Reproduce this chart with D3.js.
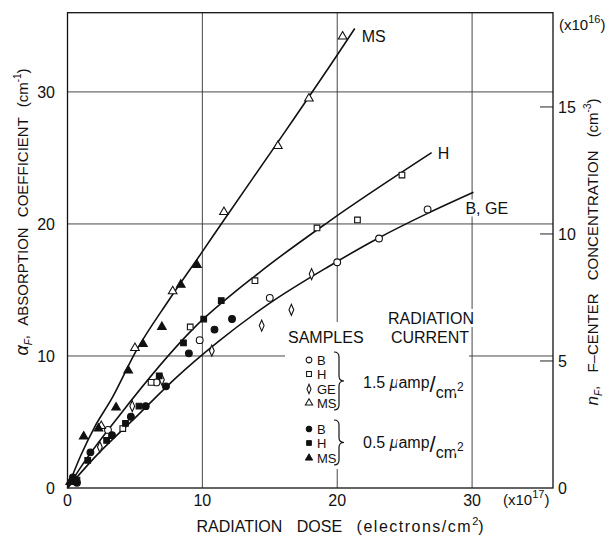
<!DOCTYPE html>
<html>
<head>
<meta charset="utf-8">
<script src="https://cdnjs.cloudflare.com/ajax/libs/d3/7.8.5/d3.min.js"></script>
<style>
  body { margin: 0; background: #fff; }
  svg text { font-family: "Liberation Sans", Arial, sans-serif; fill: #111; }
</style>
</head>
<body>
<div id="chart"></div>
<script>
// dose in 1e17 electrons/cm2, absorption coefficient in cm^-1
var openB  = [[3.0,4.4],[6.6,8.0],[9.8,11.2],[15.0,14.4],[20.0,17.1],[23.1,18.9],[26.7,21.1]]
var openH  = [[4.1,4.5],[6.2,8.0],[9.1,12.2],[13.9,15.7],[18.5,19.7],[21.5,20.3],[24.8,23.7]]
var openGE = [[2.4,3.1],[4.8,6.2],[7.0,8.2],[10.7,10.4],[14.4,12.3],[16.6,13.5],[18.1,16.2]]
var openMS = [[2.5,4.7],[5.0,10.6],[7.8,14.9],[11.6,20.9],[15.6,25.9],[17.9,29.5],[20.4,34.2]]
var solidB  = [[0.7,0.4],[0.4,0.8],[1.7,2.7],[3.3,4.0],[4.7,5.4],[5.8,6.2],[7.3,7.7],[9.0,10.2],[10.9,12.0],[12.2,12.8]]
var solidH  = [[0.7,0.6],[1.5,2.1],[2.9,3.6],[4.3,4.9],[5.3,6.2],[6.8,8.5],[8.6,11.0],[10.1,12.8],[11.4,14.2]]
var solidMS = [[0.2,0.45],[1.2,3.9],[2.3,4.5],[3.6,6.1],[4.5,8.9],[5.6,10.9],[7.0,12.2],[8.4,15.4],[9.6,16.9]]

// fitted curves
var curveMS  = [[0,0],[1,2.5],[2,4.6],[3.3,6.8],[5.1,10.4],[7.5,14.2],[10,17.9],[11.4,20],[15.6,26.2],[20,32.8],[21.3,34.8]]
var curveH   = [[0,0],[1,1.6],[3.85,5.5],[9.26,12.0],[14.2,16.3],[19.4,20.2],[27,25.4]]
var curveBGE = [[0,0],[2,2.3],[5.2,5.5],[8,8.3],[11.2,11.1],[15,14.0],[19.4,16.8],[23,18.9],[26.7,20.8],[30.1,22.4]]
var curveNames = ["MS", "H", "B, GE"]

var xTicks = [0, 10, 20, 30]
var yTicks = [0, 10, 20, 30]
var nTicks = [0, 5, 10, 15]
var legendOpen  = ["B", "H", "GE", "MS"]
var legendSolid = ["B", "H", "MS"]

var width = 610, height = 537,
margin = {top: 12.7, right: 57, bottom: 49, left: 67.5}

var svg = d3.select("#chart").append("svg")
  .attr("width", width)
  .attr("height", height)

var x = d3.scaleLinear().domain([0, 36]).range([margin.left, width - margin.right])
var y = d3.scaleLinear().domain([0, 36]).range([height - margin.bottom, margin.top])
var yn = d3.scaleLinear().domain([0, 18.71]).range([height - margin.bottom, margin.top])

var x0 = x.range()[0], x1 = x.range()[1], y0 = y.range()[0], y1 = y.range()[1]

// grid
var grid = svg.append("g").attr("stroke", "#333").attr("stroke-width", 0.9)
grid.selectAll(".gx").data(xTicks.slice(1)).enter().append("line")
  .attr("x1", function(d) { return x(d) }).attr("x2", function(d) { return x(d) })
  .attr("y1", y0).attr("y2", y1)
grid.selectAll(".gy").data(yTicks.slice(1)).enter().append("line")
  .attr("x1", x0).attr("x2", x1)
  .attr("y1", function(d) { return y(d) }).attr("y2", function(d) { return y(d) })

// right axis ticks (inward)
svg.append("g").selectAll("line").data(nTicks.slice(1)).enter().append("line")
  .attr("x1", x1 - 13).attr("x2", x1)
  .attr("y1", function(d) { return yn(d) }).attr("y2", function(d) { return yn(d) })
  .attr("stroke", "#222").attr("stroke-width", 1)

// white block behind the legend
svg.append("rect").attr("x", 285).attr("y", 322).attr("width", 184).attr("height", 147).attr("fill", "#fff")

// frame
svg.append("rect").attr("x", x0).attr("y", y1).attr("width", x1 - x0).attr("height", y0 - y1)
  .attr("fill", "none").attr("stroke", "#111").attr("stroke-width", 1.3)

// axis labels
svg.append("g").selectAll("text").data(yTicks).enter().append("text")
  .attr("x", 55).attr("y", function(d) { return y(d) }).attr("dy", "0.36em")
  .attr("text-anchor", "end").style("font-size", "16px").text(function(d) { return d })
svg.append("g").selectAll("text").data(xTicks).enter().append("text")
  .attr("x", function(d) { return x(d) }).attr("y", 506)
  .attr("text-anchor", "middle").style("font-size", "16px").text(function(d) { return d })
svg.append("g").selectAll("text").data(nTicks).enter().append("text")
  .attr("x", 558).attr("y", function(d) { return yn(d) }).attr("dy", "0.36em")
  .style("font-size", "16px").text(function(d) { return d })

function sci(px, py, exp) {
  var el = svg.append("text").attr("x", px).attr("y", py).style("font-size", "15px")
  el.append("tspan").text("(x10")
  el.append("tspan").attr("dy", -7).style("font-size", "11px").text(exp)
  el.append("tspan").attr("dy", 7).text(")")
}
sci(559, 30, "16")
sci(503, 505, "17")

var xt = svg.append("text").attr("x", 340).attr("y", 532).attr("text-anchor", "middle")
  .style("font-size", "16px").style("word-spacing", "10px")
xt.append("tspan").text("RADIATION DOSE ")
xt.append("tspan").style("letter-spacing", "1.5px").text("(electrons/cm")
xt.append("tspan").attr("dy", -7).style("font-size", "11px").text("2")
xt.append("tspan").attr("dy", 7).text(")")

var yt = svg.append("text").attr("transform", "translate(28,212) rotate(-90)")
  .attr("text-anchor", "middle").style("font-size", "15px").style("word-spacing", "6px")
yt.append("tspan").style("font-style", "italic").style("font-size", "18px").text("α")
yt.append("tspan").attr("dy", 4).style("font-size", "10px").style("font-style", "italic").text("F")
yt.append("tspan").attr("dy", -4).text(", ABSORPTION COEFFICIENT (cm")
yt.append("tspan").attr("dy", -7).style("font-size", "10px").text("-1")
yt.append("tspan").attr("dy", 7).text(")")

var nt = svg.append("text").attr("transform", "translate(598,252) rotate(-90)")
  .attr("text-anchor", "middle").style("font-size", "15px").style("word-spacing", "9px")
nt.append("tspan").style("font-style", "italic").style("font-size", "17px").text("n")
nt.append("tspan").attr("dy", 4).style("font-size", "10px").style("font-style", "italic").text("F")
nt.append("tspan").attr("dy", -4).text(", F\u2013CENTER CONCENTRATION (cm")
nt.append("tspan").attr("dy", -7).style("font-size", "10px").text("-3")
nt.append("tspan").attr("dy", 7).text(")")

// curves
var line = d3.line().x(function(d) { return x(d[0]) }).y(function(d) { return y(d[1]) })
  .curve(d3.curveMonotoneX)
var curves = [curveMS, curveH, curveBGE]
svg.append("g").selectAll("path").data(curves).enter().append("path")
  .attr("d", line).attr("fill", "none").attr("stroke", "#111").attr("stroke-width", 1.6)

var labelOff = [[7, 13], [6, 6], [-8, 22]]
svg.append("g").selectAll("text").data(curves).enter().append("text")
  .attr("x", function(d, i) { return x(d[d.length - 1][0]) + labelOff[i][0] })
  .attr("y", function(d, i) { return y(d[d.length - 1][1]) + labelOff[i][1] })
  .attr("stroke", "#fff").attr("stroke-width", 5).attr("paint-order", "stroke")
  .style("font-size", "16px").text(function(d, i) { return curveNames[i] })

// markers
var shapes = {
  B: d3.symbol().type(d3.symbolCircle).size(36)(),
  H: d3.symbol().type(d3.symbolSquare).size(32)(),
  MS: d3.symbol().type(d3.symbolTriangle).size(32)(),
  GE: "M0,-5.5L2.4,0L0,5.5L-2.4,0Z"
}
function marks(data, shape, filled) {
  svg.append("g").selectAll("path").data(data).enter().append("path")
    .attr("transform", function(d) { return "translate(" + x(d[0]) + "," + y(d[1]) + ")" })
    .attr("d", shapes[shape])
    .attr("fill", filled ? "#111" : "#fff").attr("stroke", "#111").attr("stroke-width", 1.1)
}
marks(openB, "B", false)
marks(openH, "H", false)
marks(openGE, "GE", false)
marks(openMS, "MS", false)
marks(solidB, "B", true)
marks(solidH, "H", true)
marks(solidMS, "MS", true)

// legend
var leg = svg.append("g").style("font-size", "16px")
leg.append("text").attr("x", 288).attr("y", 343).text("SAMPLES")
leg.append("text").attr("x", 431).attr("y", 324).attr("text-anchor", "middle")
  .attr("stroke", "#fff").attr("stroke-width", 6).attr("paint-order", "stroke").text("RADIATION")
leg.append("text").attr("x", 430).attr("y", 343).attr("text-anchor", "middle").text("CURRENT")

var rowsOpen = [360, 374, 389, 403], rowsSolid = [429, 443, 458]
legendOpen.forEach(function(k, i) {
  leg.append("path").attr("transform", "translate(309," + rowsOpen[i] + ") scale(0.85)")
    .attr("d", shapes[k]).attr("fill", "#fff").attr("stroke", "#111").attr("stroke-width", 1.2)
  leg.append("text").attr("x", 317).attr("y", rowsOpen[i] + 5).style("font-size", "13px").text(k)
})
legendSolid.forEach(function(k, i) {
  leg.append("path").attr("transform", "translate(309," + rowsSolid[i] + ") scale(0.85)")
    .attr("d", shapes[k]).attr("fill", "#111").attr("stroke", "#111").attr("stroke-width", 1.1)
  leg.append("text").attr("x", 317).attr("y", rowsSolid[i] + 5).style("font-size", "13px").text(k)
})

function brace(top, bot, xl) {
  var mid = (top + bot) / 2, xm = xl + 5, xt = xl + 10
  var p = "M" + xl + "," + top + " Q" + xm + "," + top + " " + xm + "," + (top + 5) +
    " L" + xm + "," + (mid - 5) + " Q" + xm + "," + mid + " " + xt + "," + mid +
    " Q" + xm + "," + mid + " " + xm + "," + (mid + 5) +
    " L" + xm + "," + (bot - 5) + " Q" + xm + "," + bot + " " + xl + "," + bot
  leg.append("path").attr("d", p).attr("fill", "none").attr("stroke", "#111").attr("stroke-width", 1.2)
}
brace(352, 410, 334)
brace(420, 465, 334)

function current(val, by) {
  var t = leg.append("text").attr("x", 363).attr("y", by)
    .attr("stroke", "#fff").attr("stroke-width", 5).attr("paint-order", "stroke")
  t.append("tspan").text(val + " ")
  t.append("tspan").style("font-style", "italic").text("μ")
  t.append("tspan").text("amp")
  t.append("tspan").attr("dy", 4).style("font-size", "22px").text("/")
  t.append("tspan").attr("dy", 6).text("cm")
  t.append("tspan").attr("dy", -7).style("font-size", "12px").text("2")
}
current("1.5", 388)
current("0.5", 448)
</script>
</body>
</html>
